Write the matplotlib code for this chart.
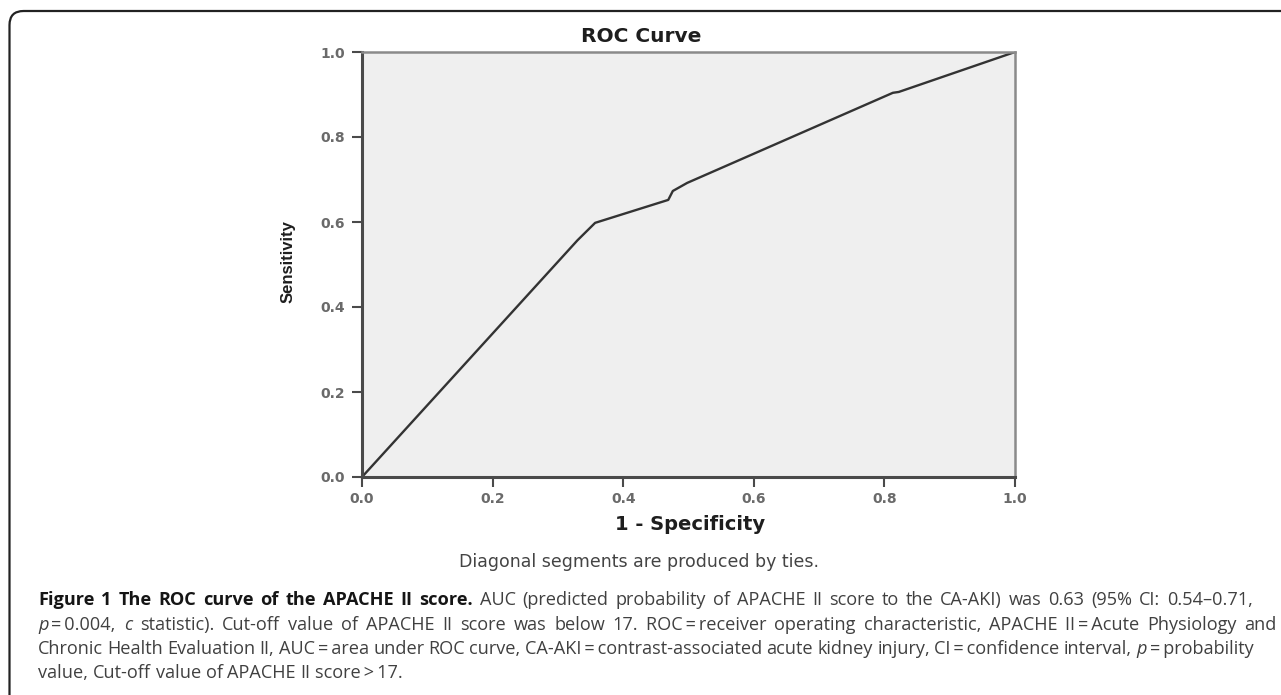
import matplotlib
matplotlib.use("Agg")
import matplotlib.pyplot as plt
from matplotlib.patches import FancyBboxPatch

# ROC curve data (1 - specificity, sensitivity)
fpr = [0.0, 0.33, 0.357, 0.469, 0.476, 0.498, 0.813, 0.822, 1.0]
tpr = [0.0, 0.557, 0.598, 0.652, 0.673, 0.692, 0.904, 0.906, 1.0]
ticks = [0.0, 0.2, 0.4, 0.6, 0.8, 1.0]
tick_labels = ["0.0", "0.2", "0.4", "0.6", "0.8", "1.0"]

W, H = 1281, 695
fig = plt.figure(figsize=(W / 100, H / 100), dpi=100)
fig.patch.set_facecolor("white")

# outer rounded border (extends beyond right and bottom edges)
box = FancyBboxPatch((9.5 / W, -0.2), 1.3, 1 - 11 / H + 0.2,
                     boxstyle="round,pad=0,rounding_size=0.011",
                     transform=fig.transFigure, fill=False,
                     edgecolor="#222222", linewidth=1.6, mutation_aspect=W / H)
fig.patches.append(box)

ax = fig.add_axes([362 / W, 1 - 477 / H, (1015 - 362) / W, (477 - 52) / H])
ax.set_facecolor("#efefef")
ax.plot(fpr, tpr, color="#333333", linewidth=1.7, solid_joinstyle="round")
ax.set_xlim(0, 1)
ax.set_ylim(0, 1)
ax.set_xticks(ticks)
ax.set_xticklabels(tick_labels)
ax.set_yticks(ticks)
ax.set_yticklabels(tick_labels)
for s in ["left", "bottom"]:
    ax.spines[s].set_color("#4a4a4a")
    ax.spines[s].set_linewidth(2.2)
for s in ["top", "right"]:
    ax.spines[s].set_color("#8a8a8a")
    ax.spines[s].set_linewidth(1.8)
ax.tick_params(direction="out", length=7.5, width=1.5, color="#4a4a4a",
               labelsize=10, labelcolor="#6a6a6a")
ax.tick_params(axis="y", pad=5)
ax.tick_params(axis="x", pad=3)
for lab in ax.get_xticklabels() + ax.get_yticklabels():
    lab.set_family("DejaVu Sans")
    lab.set_fontweight("bold")

chart_font = "DejaVu Sans"
fig.text(641 / W, 1 - 37 / H, "ROC Curve", family=chart_font, fontweight="bold",
         fontsize=14.5, color="#1e1e1e", ha="center", va="center")
fig.text(690 / W, 1 - 525 / H, "1 - Specificity", family=chart_font, fontweight="bold",
         fontsize=14, color="#1e1e1e", ha="center", va="center")
fig.text(288 / W, 1 - 262 / H, "Sensitivity", family="Liberation Sans", fontweight="bold",
         fontsize=12, color="#1e1e1e", ha="center", va="center", rotation=90)
fig.text(639 / W, 1 - 562 / H, "Diagonal segments are produced by ties.",
         family=chart_font, fontsize=12.5, color="#444444",
         ha="center", va="center")

# caption, built from styled pieces; lines stretched toward where the reference lines end
TS = "\u2009"
cap_lines = [
    [("Figure 1 The ROC curve of the APACHE II score.", "b"),
     (" AUC (predicted probability of APACHE II score to the CA-AKI) was 0.63 (95% CI: 0.54\u20130.71,", "r")],
    [("p", "i"), (TS + "=" + TS + "0.004, ", "r"), ("c", "i"),
     (" statistic). Cut-off value of APACHE II score was below 17. ROC" + TS + "=" + TS
      + "receiver operating characteristic, APACHE II" + TS + "=" + TS + "Acute Physiology and", "r")],
    [("Chronic Health Evaluation II, AUC" + TS + "=" + TS + "area under ROC curve, CA-AKI" + TS + "=" + TS
      + "contrast-associated acute kidney injury, CI" + TS + "=" + TS + "confidence interval, ", "r"),
     ("p", "i"), (TS + "=" + TS + "probability", "r")],
    [("value, Cut-off value of APACHE II score" + TS + ">" + TS + "17.", "r")],
]
line_y = [600, 625, 649, 673]
line_right = [1253, 1277, 1235, None]
cap_left = 38
cap_family = ["Open Sans", "DejaVu Sans"]
styles = {"b": dict(fontweight="bold", fontstyle="normal", color="#151515"),
          "r": dict(fontweight="normal", fontstyle="normal", color="#404040"),
          "i": dict(fontweight="normal", fontstyle="italic", color="#404040")}

renderer = fig.canvas.get_renderer()


def measure(txt, st, size):
    t = fig.text(0, 0, txt, family=cap_family, fontsize=size, **styles[st])
    w = t.get_window_extent(renderer=renderer).width
    t.remove()
    return w


def tokenize(pieces):
    words = [[]]
    for txt, st in pieces:
        parts = txt.split(" ")
        for i, part in enumerate(parts):
            if i > 0:
                words.append([])
            if part:
                words[-1].append((part, st))
    return [w for w in words if w]


def natural_width(words, size):
    sp = measure("x x", "r", size) - measure("xx", "r", size)
    return sum(measure(s, st, size) for w in words for s, st in w) + sp * (len(words) - 1)


base = 12.0
ratios = []
for pieces, right in zip(cap_lines, line_right):
    if right is not None:
        ratios.append((right - cap_left) / natural_width(tokenize(pieces), base))
cap_size = base * min(ratios) * 1.02

space_w = measure("x x", "r", cap_size) - measure("xx", "r", cap_size)
for pieces, yy, right in zip(cap_lines, line_y, line_right):
    words = tokenize(pieces)
    widths = [sum(measure(s, st, cap_size) for s, st in w) for w in words]
    gap = space_w
    if right is not None and len(words) > 1:
        gap = max(0.9 * space_w, (right - cap_left - sum(widths)) / (len(words) - 1))
    x = cap_left
    for w, ww in zip(words, widths):
        xx = x
        for s, st in w:
            t = fig.text(xx / W, 1 - yy / H, s, family=cap_family, fontsize=cap_size,
                         ha="left", va="center", **styles[st])
            xx += t.get_window_extent(renderer=renderer).width
        x += ww + gap

fig.savefig("out.png", dpi=100, facecolor="white")
